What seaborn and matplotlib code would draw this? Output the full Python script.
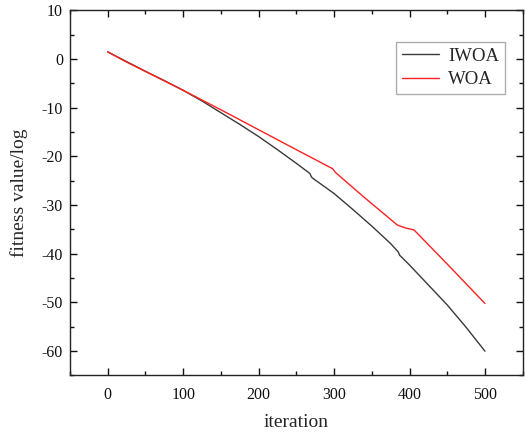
import numpy as np
import pandas as pd
import seaborn as sns
import matplotlib
matplotlib.use("Agg")
import matplotlib.pyplot as plt
from matplotlib.ticker import MultipleLocator

iwoa_iter = [0, 25, 50, 75, 100, 125, 150, 175, 200, 225, 250, 268, 270, 272,
             300, 325, 350, 375, 385, 387, 389, 400, 425, 450, 475, 500]
iwoa_val = [1.5, -0.5, -2.5, -4.4, -6.4, -8.6, -11.0, -13.4, -15.9, -18.6, -21.4,
            -23.5, -24.2, -24.5, -27.6, -30.9, -34.3, -37.9, -39.6, -40.3, -40.6,
            -42.3, -46.4, -50.5, -55.1, -60.0]

woa_iter = [0, 25, 60, 100, 150, 200, 250, 298, 302, 340, 384, 395, 406, 450, 500]
woa_val = [1.5, -0.6, -3.3, -6.4, -10.4, -14.5, -18.6, -22.5, -23.3, -28.4,
           -34.1, -34.7, -35.1, -42.1, -50.2]

df = pd.concat([
    pd.DataFrame({"iteration": iwoa_iter, "value": iwoa_val, "algo": "IWOA"}),
    pd.DataFrame({"iteration": woa_iter, "value": woa_val, "algo": "WOA"}),
])

sns.set_style("ticks")
plt.rcParams["font.family"] = ["Liberation Serif", "DejaVu Serif"]
plt.rcParams["axes.unicode_minus"] = False

fig = plt.figure(figsize=(5.25, 4.32), dpi=100)
ax = fig.add_axes([0.1333, 0.1308, 0.8623, 0.8449])

sns.lineplot(data=df, x="iteration", y="value", hue="algo",
             palette={"IWOA": "#3a3a3a", "WOA": "#ff2020"},
             linewidth=1.0, ax=ax, estimator=None, sort=False)

ax.set_xlim(-50, 550)
ax.set_ylim(-65, 10)
ax.xaxis.set_major_locator(MultipleLocator(100))
ax.xaxis.set_minor_locator(MultipleLocator(50))
ax.yaxis.set_major_locator(MultipleLocator(10))
ax.yaxis.set_minor_locator(MultipleLocator(5))
ax.tick_params(which="both", direction="in", top=True, right=True,
               labelsize=11.5, colors="#111111", width=1.0)
ax.tick_params(which="major", length=5)
ax.tick_params(which="minor", length=3)
ax.tick_params(axis="x", which="major", pad=8)
ax.tick_params(axis="y", which="major", pad=5)
for s in ax.spines.values():
    s.set_linewidth(1.0)
    s.set_color("#222222")

ax.set_xlabel("iteration", fontsize=14, labelpad=8)
ax.set_ylabel("fitness value/log", fontsize=14, labelpad=10)

leg = ax.legend(loc="upper right", bbox_to_anchor=(0.961, 0.9137), fontsize=13.5,
                frameon=True, fancybox=False, edgecolor="#999999",
                handlelength=2.0, borderpad=0.3, labelspacing=0.35,
                handletextpad=0.5, borderaxespad=0.0)
leg.get_frame().set_linewidth(1.0)

fig.savefig("out.png", dpi=100)
